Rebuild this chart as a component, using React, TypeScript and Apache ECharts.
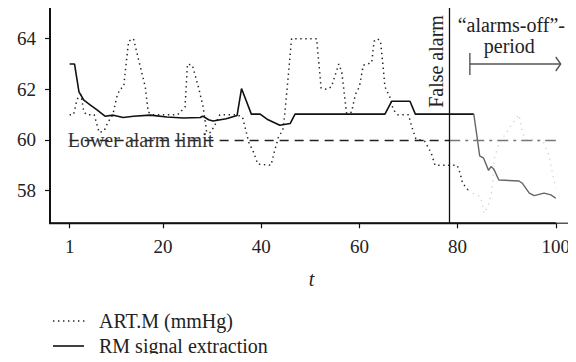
import React, { useEffect, useRef } from "react";
import * as echarts from "echarts";

// ART.M (mmHg), normal period
const artT = [1, 1.8, 2.5, 3.3, 3.9, 4.5, 6, 7, 8, 8.8, 9.8, 10.6, 11.2, 12, 13, 14, 15, 16.4, 17, 18, 23, 24.5, 25, 26, 27.3, 28.2, 28.9, 29.7, 30.6, 31.6, 35, 36.2, 37.5, 38.5, 39.3, 42, 42.7, 43.5, 44.4, 44.8, 45.5, 46.2, 51.3, 52.2, 53.3, 54.3, 55.8, 56.4, 57.4, 58.4, 59.2, 60, 60.8, 62.5, 63, 63.7, 64.3, 64.8, 65.2, 66.2, 66.9, 67.8, 70, 70.7, 71.5, 73.3, 74.6, 75.4, 79.9, 80.5, 81, 82.1];
const artV = [61, 61, 61.6, 61.8, 61.1, 61, 61, 60.3, 60.35, 60.7, 61, 61.7, 62, 62.1, 63.9, 64, 63.2, 62.1, 61.1, 61, 61, 61.3, 63, 62.95, 62.03, 61.3, 60.3, 60.3, 60.6, 61, 61, 60.9, 59.9, 59.5, 59.05, 59, 59.55, 60.1, 60.4, 61, 62.5, 64, 64, 62.05, 62, 62.1, 63, 62.7, 61.05, 61.1, 61.8, 62.1, 62.95, 63.05, 63.9, 64, 63.9, 62.95, 62.1, 61.7, 61.2, 61, 61, 60.5, 60.05, 59.95, 59.5, 59, 59, 58.7, 58.3, 58.03];
// ART.M (mmHg), alarms-off period (faded)
const artOffT = [82.1, 83, 84.7, 85.4, 86.4, 87, 87.5, 88.5, 90, 91, 92.5, 93.2, 94, 96, 97.5, 98.6, 99.2, 100];
const artOffV = [58.03, 57.9, 57.76, 57.1, 57.5, 58, 59.3, 59.9, 60.3, 60.6, 61, 60.3, 60, 60, 59.9, 59.4, 58.8, 58.1];
// RM signal extraction, normal period
const rmT = [1, 2, 2.9, 3.9, 5.1, 6.5, 8.2, 9.9, 11.9, 14, 17.4, 20.8, 24.2, 27.6, 28.1, 29.3, 30.2, 32.9, 35.1, 36, 38, 39.8, 41.2, 43.8, 45.9, 46.9, 65.2, 66.6, 70.3, 71.4, 83.3];
const rmV = [63, 63, 61.9, 61.57, 61.4, 61.2, 60.94, 60.98, 60.89, 60.94, 60.98, 60.91, 60.87, 60.89, 60.94, 60.8, 60.75, 60.84, 60.97, 62.03, 61.02, 61.02, 60.82, 60.58, 60.65, 61.02, 61.02, 61.53, 61.53, 61.02, 61.02];
// RM signal extraction, alarms-off period
const rmOffT = [83.3, 84.5, 85.3, 86.3, 86.8, 87.4, 88.4, 92.5, 93.2, 94.6, 95.6, 97.6, 99, 100];
const rmOffV = [61.02, 59.37, 59.28, 58.8, 58.95, 58.84, 58.42, 58.38, 58.29, 57.9, 57.8, 57.9, 57.83, 57.7];

const legendNames = ["ART.M (mmHg)", "RM signal extraction"];
const xTicks = [1, 20, 40, 60, 80, 100];
const yTicks = [58, 60, 62, 64];
const xTitle = "t";
const lowerLimit = 60;
const falseAlarmT = 78.3;
const alarmsOffStartT = 82.5;
const alarmsOffEndT = 101;
const arrowV = 63;

const X_MIN = -3;
const X_MAX = 103.5;
const Y_MIN = 56.71;
const Y_MAX = 65.33;

const FONT = "Liberation Serif";
const TXT = "#222";
const DOT: number[] = [1.4, 3.6];

const zip = (a: number[], b: number[]) => a.map((t, i) => [t, b[i]]);

export default function App() {
  const ref = useRef<HTMLDivElement>(null);
  useEffect(() => {
    if (!ref.current) return;
    const chart = echarts.init(ref.current, undefined, { renderer: "svg" });
    chart.setOption({
      animation: false,
      textStyle: { fontFamily: FONT },
      grid: { left: 50, right: 3, top: 5, bottom: 138.7, show: true, borderColor: "#555", borderWidth: 1.5 },
      xAxis: {
        type: "value",
        min: X_MIN,
        max: X_MAX,
        axisLine: { show: false, onZero: false },
        axisTick: { show: true, customValues: xTicks, length: 5, lineStyle: { color: "#111", width: 1.2 } },
        axisLabel: { show: false },
        splitLine: { show: false },
      },
      yAxis: {
        type: "value",
        min: Y_MIN,
        max: Y_MAX,
        axisLine: { show: false, onZero: false },
        axisTick: { show: true, customValues: yTicks, length: 5, lineStyle: { color: "#111", width: 1.2 } },
        axisLabel: { show: false },
        splitLine: { show: false },
      },
      series: [
        {
          name: legendNames[0],
          type: "line",
          symbol: "none",
          data: zip(artT, artV),
          lineStyle: { color: "#222", width: 1.5, type: DOT },
          z: 3,
        },
        {
          name: "ART.M off",
          type: "line",
          symbol: "none",
          data: zip(artOffT, artOffV),
          lineStyle: { color: "#d4d4d4", width: 1.4, type: [1.4, 4.5] },
          z: 2,
        },
        {
          name: legendNames[1],
          type: "line",
          symbol: "none",
          data: zip(rmT, rmV),
          lineStyle: { color: "#111", width: 1.6 },
          z: 4,
          markLine: {
            silent: true,
            symbol: ["none", "none"],
            label: { show: false },
            data: [
              [
                { coord: [1, lowerLimit], lineStyle: { color: "#222", width: 1.3, type: [9, 6] } },
                { coord: [falseAlarmT, lowerLimit] },
              ],
              [
                { coord: [falseAlarmT, lowerLimit], lineStyle: { color: "#777", width: 1.3, type: [11, 5, 3, 5] } },
                { coord: [100, lowerLimit] },
              ],
              [
                { coord: [falseAlarmT, Y_MIN], lineStyle: { color: "#111", width: 1.3, type: "solid" } },
                { coord: [falseAlarmT, Y_MAX] },
              ],
            ],
          },
        },
        {
          name: "RM off",
          type: "line",
          symbol: "none",
          data: zip(rmOffT, rmOffV),
          lineStyle: { color: "#666", width: 1.4 },
          z: 4,
        },
      ],
    });

    const p = (t: number, v: number) => chart.convertToPixel({ gridIndex: 0 }, [t, v]) as number[];
    const lim = p(0.6, lowerLimit);
    const fa = p(falseAlarmT, 63.1);
    const a0 = p(alarmsOffStartT, arrowV);
    const a1 = p(alarmsOffEndT, arrowV);
    const origin = p(X_MIN, Y_MIN);
    const far = p(X_MAX, Y_MIN);
    const top = p(X_MIN, Y_MAX);
    const end100 = p(100, Y_MIN);
    const txtMid = (a0[0] + a1[0]) / 2;
    const legX = 53;
    const legY = [321, 346];
    const lbl = (text: string, x: number, y: number, align: string, size = 19, extra: any = {}) => ({
      type: "text",
      x,
      y,
      z: 10,
      style: { text, fontFamily: FONT, fontSize: size, fill: TXT, align, verticalAlign: "middle", ...extra },
    });
    const graphics: any[] = [
      {
        type: "line",
        z: 20,
        shape: { x1: origin[0], y1: origin[1] + 0.5, x2: top[0], y2: top[1] },
        style: { stroke: "#111", lineWidth: 2 },
      },
      {
        type: "line",
        z: 20,
        shape: { x1: origin[0] - 1, y1: origin[1], x2: end100[0], y2: end100[1] },
        style: { stroke: "#111", lineWidth: 2 },
      },
    ];
    xTicks.forEach((t) => graphics.push(lbl(String(t), p(t, Y_MIN)[0], origin[1] + 23, "center")));
    yTicks.forEach((v) => graphics.push(lbl(String(v), origin[0] - 14, p(X_MIN, v)[1], "right")));
    graphics.push(lbl(xTitle, (origin[0] + far[0]) / 2, origin[1] + 56, "center", 20, { fontStyle: "italic" }));
    graphics.push(
      lbl("Lower alarm limit", lim[0], lim[1], "left", 20, { fill: "#333" }),
      {
        type: "text",
        x: fa[0] - 13,
        y: fa[1],
        rotation: Math.PI / 2,
        z: 10,
        style: { text: "False alarm", fontFamily: FONT, fontSize: 20, fill: TXT, align: "center", verticalAlign: "middle" },
      },
      lbl("\u201Calarms-off\u201D-", txtMid - 4, a0[1] - 39, "center", 20),
      lbl("period", txtMid - 6, a0[1] - 18, "center", 20),
      {
        type: "line",
        z: 10,
        shape: { x1: a0[0], y1: a0[1], x2: a1[0], y2: a1[1] },
        style: { stroke: "#555", lineWidth: 1.4 },
      },
      {
        type: "line",
        z: 10,
        shape: { x1: a0[0], y1: a0[1] - 11, x2: a0[0], y2: a0[1] + 11 },
        style: { stroke: "#555", lineWidth: 1.4 },
      },
      {
        type: "polyline",
        z: 10,
        shape: { points: [[a1[0] - 5, a1[1] - 7], [a1[0], a1[1]], [a1[0] - 5, a1[1] + 7]] },
        style: { stroke: "#555", lineWidth: 1.4, fill: "none" },
      },
      {
        type: "line",
        shape: { x1: legX, y1: legY[0], x2: legX + 35, y2: legY[0] },
        style: { stroke: "#222", lineWidth: 1.4, lineDash: DOT },
      },
      lbl(legendNames[0], legX + 46, legY[0], "left", 20),
      {
        type: "line",
        shape: { x1: legX, y1: legY[1], x2: legX + 31, y2: legY[1] },
        style: { stroke: "#111", lineWidth: 1.6 },
      },
      lbl(legendNames[1], legX + 46, legY[1], "left", 20)
    );
    chart.setOption({ graphic: graphics });
    return () => chart.dispose();
  }, []);
  return <div ref={ref} style={{ width: 576, height: 362, margin: -8 }} />;
}
